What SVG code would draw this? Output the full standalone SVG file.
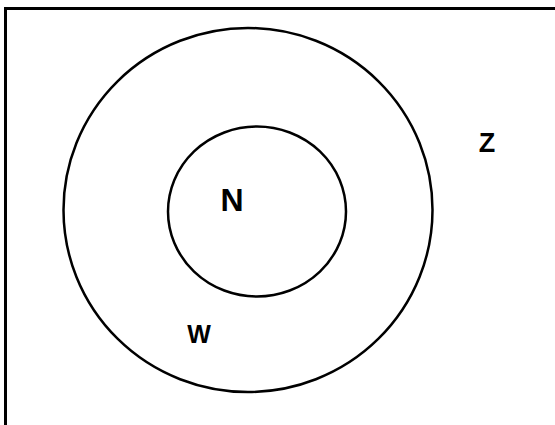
<svg xmlns="http://www.w3.org/2000/svg" width="555" height="425" viewBox="0 0 555 425">
<style>
.set{fill:none;stroke:#000;stroke-width:2.5}
.lbl{font-family:"Liberation Sans",Arial,sans-serif;font-weight:bold;fill:#000;text-anchor:middle}
</style>
<rect width="555" height="425" fill="#fff"/>
<g id="universe">
<rect x="5.5" y="8.5" width="560" height="430" fill="none" stroke="#000" stroke-width="3"/>
<text class="lbl" x="487" y="151.5" font-size="27">Z</text>
</g>
<g id="W">
<ellipse class="set" cx="248" cy="210" rx="184.5" ry="182"/>
<text class="lbl" x="199" y="343" font-size="25">W</text>
</g>
<g id="N">
<ellipse class="set" cx="257" cy="211.5" rx="89" ry="85"/>
<text class="lbl" x="232" y="211" font-size="32">N</text>
</g>
<g id="connectors"/>
</svg>
